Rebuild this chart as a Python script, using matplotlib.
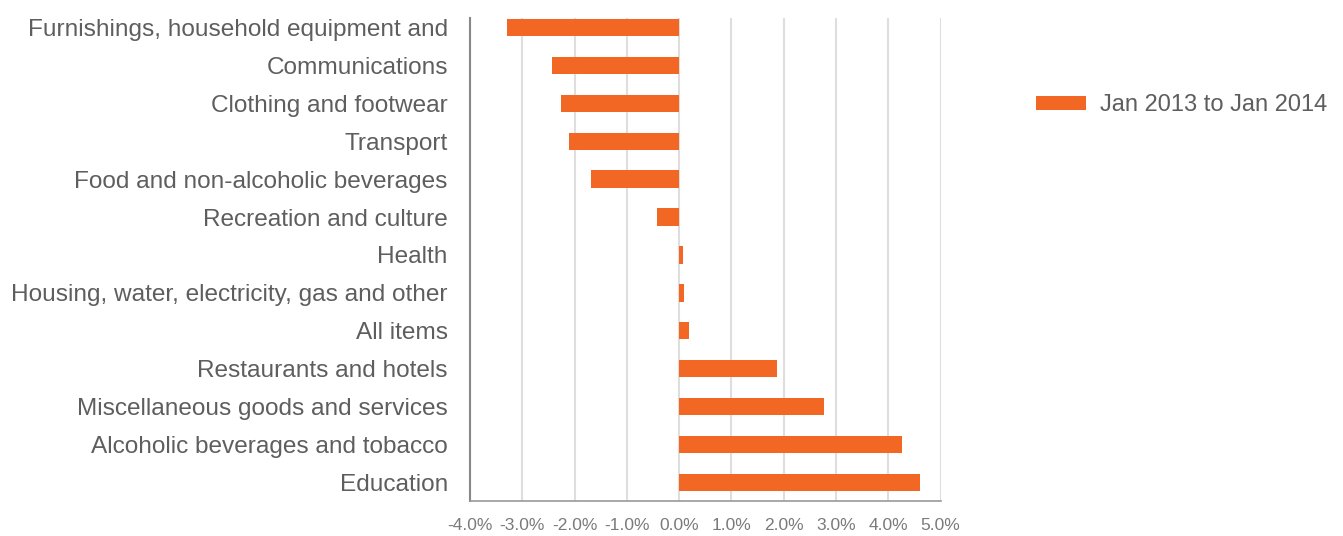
import matplotlib.pyplot as plt

# Categories top to bottom
categories = [
    'Furnishings, household equipment and',
    'Communications',
    'Clothing and footwear',
    'Transport',
    'Food and non-alcoholic beverages',
    'Recreation and culture',
    'Health',
    'Housing, water, electricity, gas and other',
    'All items',
    'Restaurants and hotels',
    'Miscellaneous goods and services',
    'Alcoholic beverages and tobacco',
    'Education',
]
# Percentage change, Jan 2013 to Jan 2014
values = [-3.29, -2.43, -2.26, -2.10, -1.68, -0.42, 0.07, 0.10, 0.18, 1.87, 2.77, 4.26, 4.61]
series_name = 'Jan 2013 to Jan 2014'
xticks = [-4, -3, -2, -1, 0, 1, 2, 3, 4, 5]

plt.rcParams['font.family'] = ['Liberation Sans', 'DejaVu Sans']

fig = plt.figure(figsize=(13.43, 5.36), dpi=100)
W, H = 1343, 536
ax = fig.add_axes([470 / W, (H - 500.7) / H, (940.5 - 470) / W, (500.7 - 18) / H])

y = list(range(len(categories)))
ax.barh(y, values, height=0.45, color='#F26724', label=series_name, zorder=3)

ax.set_xlim(-4, 5)
ax.set_ylim(12.47, -0.24)
ax.set_yticks(y)
ax.set_yticklabels(categories, fontsize=17.6, color='#5e5e5e')
ax.set_xticks(xticks)
ax.set_xticklabels(['%.1f%%' % t for t in xticks], fontsize=12.5, color='#7a7a7a')
ax.tick_params(axis='y', length=0, pad=16)
ax.tick_params(axis='x', length=0, pad=12.5)

ax.grid(axis='x', color='#dedede', linewidth=1.5, zorder=0)
ax.set_axisbelow(True)
for s in ['top', 'right']:
    ax.spines[s].set_visible(False)
ax.spines['left'].set_color('#888888')
ax.spines['left'].set_linewidth(1.5)
ax.spines['bottom'].set_color('#999999')
ax.spines['bottom'].set_linewidth(1.2)

ax.legend(loc='center left', bbox_to_anchor=(1036 / W, 1 - 105 / H), bbox_transform=fig.transFigure,
          frameon=False, fontsize=17, labelcolor='#5e5e5e', handlelength=2.1, handleheight=0.55,
          handletextpad=0.6, borderpad=0, borderaxespad=0)

fig.savefig('out.png', dpi=100)
